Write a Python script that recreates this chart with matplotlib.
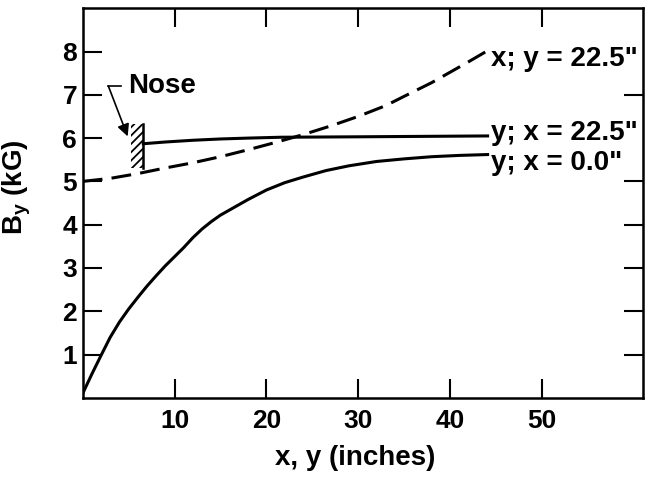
import numpy as np
import matplotlib
matplotlib.use('Agg')
import matplotlib.pyplot as plt
from matplotlib.patches import Rectangle

plt.rcParams['font.family'] = ['Liberation Sans', 'DejaVu Sans']
plt.rcParams['font.weight'] = 'bold'
plt.rcParams['mathtext.fontset'] = 'custom'
plt.rcParams['mathtext.bf'] = 'Liberation Sans:bold'
plt.rcParams['mathtext.rm'] = 'Liberation Sans:bold'
plt.rcParams['hatch.linewidth'] = 1.3

# B_y along x at y = 22.5"
xa_pos = [0, 3, 6, 9, 12, 15, 18, 21, 24, 27, 30, 33, 36, 38, 40, 42, 44.1]
xa_by = [5.0, 5.07, 5.18, 5.31, 5.43, 5.57, 5.73, 5.9, 6.08, 6.28, 6.5, 6.75,
         7.07, 7.28, 7.52, 7.76, 8.02]

# B_y along y at x = 22.5"
ya_pos = [6.6, 9, 12, 15, 18, 21.6, 30, 44.1]
ya_by = [5.87, 5.91, 5.95, 5.98, 6.0, 6.02, 6.03, 6.05]

# B_y along y at x = 0.0"
yb_pos = [0, 1, 2, 3, 4, 5, 6, 7, 8, 9, 10, 11, 12, 13, 14, 15, 16.5, 18,
          20, 22, 24, 26.5, 29, 32, 35, 38, 41, 44.1]
yb_by = [0.1, 0.55, 0.98, 1.4, 1.75, 2.05, 2.32, 2.58, 2.82, 3.05, 3.26,
         3.47, 3.7, 3.9, 4.07, 4.22, 4.4, 4.58, 4.8, 4.97, 5.1, 5.25, 5.36,
         5.46, 5.52, 5.57, 5.6, 5.62]

curve_labels = ['x; y = 22.5"', 'y; x = 22.5"', 'y; x = 0.0"']
label_y = [7.9, 6.18, 5.5]

xticks = [10, 20, 30, 40, 50]
yticks = [1, 2, 3, 4, 5, 6, 7, 8]
right_ticks = [1, 2, 3, 4, 5, 7]

fig = plt.figure(figsize=(6.46, 4.84), dpi=100)
ax = fig.add_axes([0.128, 0.178, 0.867, 0.805])
ax.set_xlim(0, 61)
ax.set_ylim(0, 9)

lw = 2.2
ax.plot(xa_pos, xa_by, color='black', lw=lw, dashes=(6.5, 3))
ax.plot(ya_pos, ya_by, color='black', lw=lw)
ax.plot(yb_pos, yb_by, color='black', lw=lw)

for lab, yy in zip(curve_labels, label_y):
    ax.text(44.5, yy, lab, fontsize=20, fontweight='bold',
            ha='left', va='center_baseline')

# nose of the magnet pole
ax.add_patch(Rectangle((5.3, 5.32), 1.3, 1.0, facecolor='none',
                       edgecolor='black', lw=0, hatch='////'))
ax.plot([6.6, 6.6], [5.32, 6.32], color='black', lw=1.8)
ax.text(5.0, 7.2, 'Nose', fontsize=20, fontweight='bold', ha='left', va='center')
ax.plot([2.8, 4.2], [7.2, 7.2], color='black', lw=1.2)
ax.annotate('', xy=(4.9, 6.04), xytext=(2.8, 7.2),
            arrowprops=dict(arrowstyle='-|>', color='black', lw=1.2,
                            mutation_scale=18, shrinkA=0, shrinkB=0))

ax.set_xticks(xticks)
ax.set_yticks(yticks)
ax.tick_params(direction='in', length=14, width=1.5, labelsize=19, top=True)
ax.tick_params(axis='x', pad=8)
ax.tick_params(axis='y', pad=4)
for t in ax.get_xticklabels() + ax.get_yticklabels():
    t.set_fontweight('bold')

sec = ax.secondary_yaxis('right')
sec.set_yticks(right_ticks)
sec.tick_params(direction='in', length=14, width=1.5, labelright=False)
sec.spines['right'].set_visible(False)

for s in ax.spines.values():
    s.set_linewidth(1.8)

ax.set_xlabel('x, y (inches)', fontsize=20, fontweight='bold')
ax.set_ylabel(r'$\mathbf{B_y}$ (kG)', fontsize=20, fontweight='bold')
ax.xaxis.set_label_coords(0.486, -0.12)
ax.yaxis.set_label_coords(-0.089, 0.54)

fig.savefig('out.png', dpi=100)
